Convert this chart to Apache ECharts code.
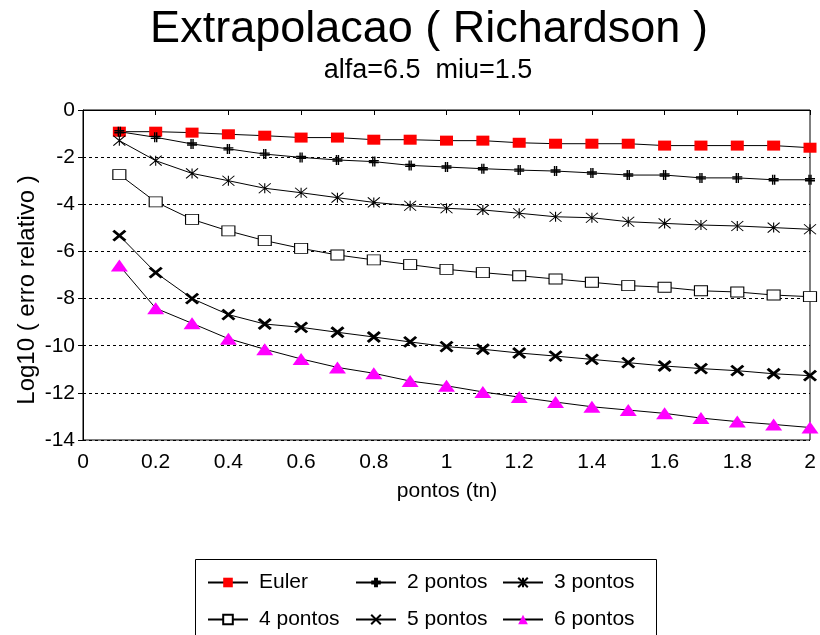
<!DOCTYPE html>
<html>
<head>
<meta charset="utf-8">
<script src="https://cdn.jsdelivr.net/npm/echarts@6/dist/echarts.min.js"></script>
<style>
html,body{margin:0;padding:0;background:#fff;}
#chart{width:820px;height:635px;}
</style>
</head>
<body>
<div id="chart"></div>
<script>
const xs = [0.1,0.2,0.3,0.4,0.5,0.6,0.7,0.8,0.9,1.0,1.1,1.2,1.3,1.4,1.5,1.6,1.7,1.8,1.9,2.0];
const euler = [-0.92,-0.92,-0.96,-1.03,-1.09,-1.17,-1.17,-1.26,-1.26,-1.30,-1.30,-1.39,-1.43,-1.43,-1.43,-1.51,-1.51,-1.51,-1.51,-1.60];
const pontos2 = [-0.92,-1.16,-1.44,-1.65,-1.87,-2.01,-2.12,-2.19,-2.35,-2.42,-2.49,-2.55,-2.59,-2.67,-2.76,-2.76,-2.88,-2.88,-2.96,-2.96];
const pontos3 = [-1.30,-2.15,-2.69,-3.00,-3.32,-3.51,-3.72,-3.92,-4.06,-4.17,-4.24,-4.38,-4.53,-4.57,-4.74,-4.81,-4.88,-4.92,-4.99,-5.06];
const pontos4 = [-2.74,-3.90,-4.64,-5.13,-5.54,-5.87,-6.15,-6.36,-6.56,-6.76,-6.90,-7.03,-7.17,-7.31,-7.45,-7.52,-7.67,-7.72,-7.85,-7.92];
const pontos5 = [-5.33,-6.90,-8.00,-8.68,-9.08,-9.22,-9.43,-9.63,-9.84,-10.04,-10.15,-10.31,-10.44,-10.58,-10.72,-10.86,-10.97,-11.06,-11.19,-11.27];
const pontos6 = [-6.60,-8.41,-9.05,-9.70,-10.15,-10.56,-10.92,-11.17,-11.50,-11.70,-11.96,-12.18,-12.39,-12.59,-12.73,-12.87,-13.07,-13.22,-13.34,-13.47];
const seriesNames = ['Euler','2 pontos','3 pontos','4 pontos','5 pontos','6 pontos'];
const titleText = 'Extrapolacao ( Richardson )';
const subtitleText = 'alfa=6.5  miu=1.5';
const xAxisTitle = 'pontos (tn)';
const yAxisTitle = 'Log10 ( erro relativo )';

const FONT = 'Liberation Sans, Arial, sans-serif';
const pair = arr => xs.map((x, i) => [x, arr[i]]);

const symDefs = [
  {symbol:'rect', size:[13,10], item:{color:'#ff0000', borderWidth:0}},
  {symbol:'path://M4 0V10M6 0V10M0 4H10M0 6H10', size:[10,10], item:{color:'#000', borderColor:'#000', borderWidth:1.4}},
  {symbol:'path://M0 0L12 10M0 10L12 0M6 0V10', size:[12,10], item:{color:'#000', borderColor:'#000', borderWidth:1}},
  {symbol:'rect', size:[13,10], item:{color:'#fff', borderColor:'#000', borderWidth:1}},
  {symbol:'path://M0 0L12 10M0 10L12 0', size:[12,10], item:{color:'#000', borderColor:'#000', borderWidth:2.8}},
  {symbol:'triangle', size:[17,12], item:{color:'#ff00ff', borderWidth:0}}
];
const dataSets = [euler, pontos2, pontos3, pontos4, pontos5, pontos6];

const series = dataSets.map((d, i) => ({
  name: seriesNames[i],
  type: 'line',
  data: pair(d),
  symbol: symDefs[i].symbol,
  symbolSize: symDefs[i].size,
  showAllSymbol: true,
  lineStyle: {color:'#000', width:1},
  itemStyle: symDefs[i].item,
  emphasis: {disabled: true},
  z: 2 + i
}));

const legendPos = [
  {left:207, top:572}, {left:355, top:572}, {left:502, top:572},
  {left:207, top:609}, {left:355, top:609}, {left:502, top:609}
];
const legends = seriesNames.map((n, i) => ({
  data: [n],
  left: legendPos[i].left,
  top: legendPos[i].top,
  padding: 0,
  itemWidth: 40,
  itemHeight: 12,
  selectedMode: false,
  textStyle: {fontFamily: FONT, fontSize: 21, color:'#000', padding:[0,0,0,6]}
}));

const chart = echarts.init(document.getElementById('chart'));
chart.setOption({
  animation: false,
  backgroundColor: '#fff',
  grid: {left:83, right:10, top:110, bottom:195, show:true, borderColor:'#000', borderWidth:1, backgroundColor:'transparent'},
  xAxis: {
    type:'value', min:0, max:2, interval:0.2,
    axisLine:{show:true, lineStyle:{color:'#000', width:1}},
    axisTick:{show:true, length:5, inside:false, lineStyle:{color:'#000'}},
    axisLabel:{fontFamily:FONT, fontSize:21, color:'#000', margin:12},
    splitLine:{show:false}
  },
  yAxis: {
    type:'value', min:-14, max:0, interval:2,
    axisLine:{show:true, lineStyle:{color:'#000', width:1}},
    axisTick:{show:true, length:5, inside:false, lineStyle:{color:'#000'}},
    axisLabel:{fontFamily:FONT, fontSize:21, color:'#000', margin:8},
    splitLine:{show:true, lineStyle:{color:'#000', width:1, type:[3,3]}}
  },
  legend: legends,
  graphic: [
    {type:'text', x:429, y:30, style:{text:titleText, font:'45px ' + FONT, fill:'#000', textAlign:'center', textVerticalAlign:'middle'}},
    {type:'text', x:428, y:71, style:{text:subtitleText, font:'27px ' + FONT, fill:'#000', textAlign:'center', textVerticalAlign:'middle'}},
    {type:'text', x:447, y:491, style:{text:xAxisTitle, font:'21px ' + FONT, fill:'#000', textAlign:'center', textVerticalAlign:'middle'}},
    {type:'text', x:27, y:290, rotation:Math.PI/2, style:{text:yAxisTitle, font:'24px ' + FONT, fill:'#000', textAlign:'center', textVerticalAlign:'middle'}},
    {type:'rect', shape:{x:195.5, y:559.5, width:461, height:90}, style:{fill:'none', stroke:'#000', lineWidth:1}, z:-1}
  ],
  series: series
});
</script>
</body>
</html>
